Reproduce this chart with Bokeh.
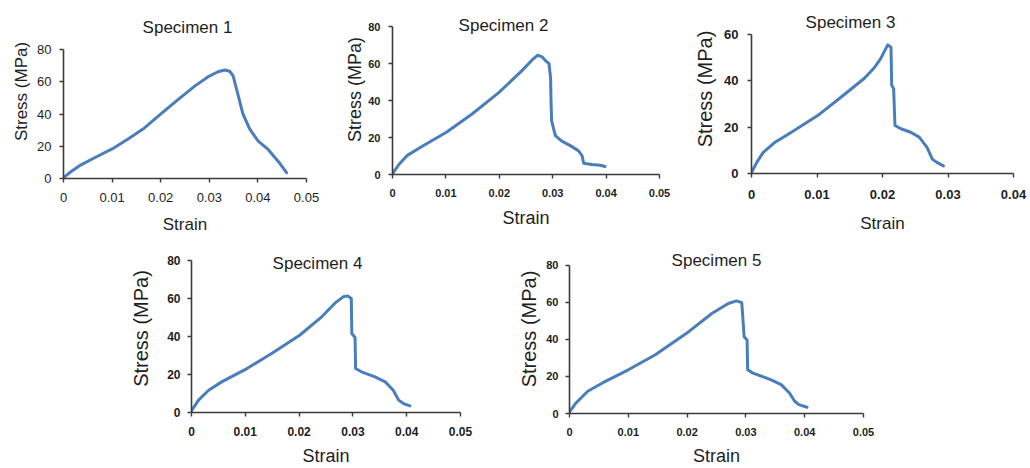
from bokeh.plotting import figure
from bokeh.layouts import column, row
from bokeh.models import Range1d, FixedTicker, Label, Spacer
from bokeh.embed import file_html
from bokeh.resources import INLINE

# ---------------- data ----------------
titles = ["Specimen 1", "Specimen 2", "Specimen 3", "Specimen 4", "Specimen 5"]

s1_strain = [0, 0.0015, 0.0036, 0.0063, 0.0101, 0.0132, 0.0166, 0.0201, 0.0235, 0.027,
             0.0297, 0.0318, 0.0332, 0.0342, 0.0349, 0.0359, 0.0369, 0.0383, 0.04,
             0.0421, 0.0442, 0.0459]
s1_stress = [0.5, 4.2, 8.5, 12.7, 18.5, 24.4, 31.2, 40.3, 48.8, 57.3,
             63, 66.2, 67.3, 66.5, 63.7, 52, 40.3, 30.8, 23.4,
             18, 10.6, 3.6]

s2_strain = [0, 0.0012, 0.0027, 0.0055, 0.0101, 0.0149, 0.0199, 0.0242, 0.0261, 0.0272,
             0.028, 0.0287, 0.0293, 0.0296, 0.0297, 0.0298, 0.0305, 0.0317, 0.0333,
             0.0348, 0.0355, 0.0358, 0.0373, 0.0389, 0.0398]
s2_stress = [0.4, 5.4, 10.2, 15.1, 22.8, 32.7, 44.3, 56, 61.8, 64.5,
             63.6, 61.4, 60, 52.4, 38, 29, 21, 18, 15.6,
             12.9, 10.2, 6.1, 5.4, 5, 4.3]

s3_strain = [0, 0.0008, 0.0018, 0.0036, 0.0061, 0.0101, 0.0137, 0.0172, 0.0187, 0.0197,
             0.0208, 0.0213, 0.0214, 0.0217, 0.0219, 0.0228, 0.0243, 0.0256, 0.0268,
             0.0276, 0.0283, 0.0293]
s3_stress = [0.4, 4.8, 9.1, 13.5, 17.8, 25, 33, 41, 45.5, 49.5,
             55.5, 54.5, 38.1, 36.7, 20.7, 19.3, 17.8, 15.7, 11.3,
             6.2, 4.8, 3.3]

s4_strain = [0, 0.0013, 0.0032, 0.0056, 0.0103, 0.0149, 0.0201, 0.0242, 0.0267, 0.0282,
             0.029, 0.0297, 0.0298, 0.0304, 0.0305, 0.0316, 0.0341, 0.036, 0.0375,
             0.0385, 0.0394, 0.0406]
s4_stress = [0.9, 6.5, 11.7, 16.1, 23.1, 31, 40.6, 50.3, 57.6, 60.8,
             61.3, 59.9, 41.5, 39.4, 23.1, 21.4, 18.7, 16.1, 11.7,
             6.5, 4.7, 3.5]

s5_strain = [0, 0.0011, 0.0031, 0.0056, 0.01, 0.0146, 0.0199, 0.0242, 0.027, 0.0284,
             0.0293, 0.0297, 0.0302, 0.0303, 0.0312, 0.0343, 0.036, 0.0374, 0.0383,
             0.039, 0.0404]
s5_stress = [0.9, 5.7, 12, 16.5, 23.6, 31.7, 43.3, 54, 59.4, 60.8,
             59.9, 41.5, 39.7, 23.6, 21.8, 18.2, 15.6, 11.1, 6.6,
             4.8, 3.4]

x_ticks_05 = [0, 0.01, 0.02, 0.03, 0.04, 0.05]
x_labels_05 = ["0", "0.01", "0.02", "0.03", "0.04", "0.05"]
x_ticks_04 = [0, 0.01, 0.02, 0.03, 0.04]
x_labels_04 = ["0", "0.01", "0.02", "0.03", "0.04"]
y_ticks_80 = [0, 20, 40, 60, 80]
y_labels_80 = ["0", "20", "40", "60", "80"]
y_ticks_60 = [0, 20, 40, 60]
y_labels_60 = ["0", "20", "40", "60"]

series = [(s1_strain, s1_stress), (s2_strain, s2_stress), (s3_strain, s3_stress),
          (s4_strain, s4_stress), (s5_strain, s5_stress)]
xticks = [(x_ticks_05, x_labels_05)] * 2 + [(x_ticks_04, x_labels_04)] + [(x_ticks_05, x_labels_05)] * 2
yticks = [(y_ticks_80, y_labels_80)] * 2 + [(y_ticks_60, y_labels_60)] + [(y_ticks_80, y_labels_80)] * 2

# ---------------- styles / layout ----------------
# ax_top: pixel (from canvas top) where the top tick of the y axis sits;
# the frame extends above it so that the title can sit inside the frame.
cfg = [
    dict(w=340, h=240, bl=63, br=34, bt=4, bb=62, ax_top=49, tf=13, tb="normal", yl=17, xl=17,
         tx=124, ty=151, ystd=3, xstd=10, lsx=10, lsy=8),
    dict(w=350, h=240, bl=52, br=31, bt=4, bb=66, ax_top=26, tf=11, tb="bold", yl=18, xl=18,
         tx=111, ty=149, ystd=0, xstd=8, lsx=10, lsy=8),
    dict(w=340, h=240, bl=61, br=17, bt=4, bb=67, ax_top=34, tf=13, tb="bold", yl=20, xl=17,
         tx=99, ty=151, ystd=5, xstd=12, lsx=12, lsy=9),
    dict(w=390, h=228, bl=66, br=55, bt=4, bb=54, ax_top=20, tf=12, tb="bold", yl=20, xl=18,
         tx=126, ty=149, ystd=12, xstd=7, lsx=10, lsy=7),
    dict(w=365, h=228, bl=53, br=17, bt=4, bb=54, ax_top=25, tf=11, tb="bold", yl=20, xl=18,
         tx=147, ty=153, ystd=3, xstd=7, lsx=10, lsy=7),
]

FONT = "Liberation Sans"
AXIS_COLOR = "#3a3a3a"
TEXT_COLOR = "#1e1e1e"
LINE_COLOR = "#4a7ebb"

figs = []
for i in range(5):
    c = cfg[i]
    xs, ys = series[i]
    xt, xlab = xticks[i]
    yt, ylab = yticks[i]
    frame_bottom = c["h"] - c["bb"]
    frame_top = c["bt"]
    y_top = yt[-1] * (frame_bottom - frame_top) / (frame_bottom - c["ax_top"])
    p = figure(width=c["w"], height=c["h"], output_backend="svg", toolbar_location=None,
               x_range=Range1d(xt[0], xt[-1]), y_range=Range1d(yt[0], y_top),
               min_border_left=c["bl"], min_border_right=c["br"],
               min_border_top=c["bt"], min_border_bottom=c["bb"])
    p.outline_line_color = None
    p.grid.visible = False
    p.background_fill_color = "white"
    p.border_fill_color = "white"

    p.line(xs, ys, line_color=LINE_COLOR, line_width=3, line_join="round", line_cap="round")

    p.xaxis.ticker = FixedTicker(ticks=xt)
    p.yaxis.ticker = FixedTicker(ticks=yt)
    p.yaxis.bounds = (yt[0], yt[-1])
    p.xaxis.major_label_overrides = dict(zip(xt, xlab))
    p.yaxis.major_label_overrides = dict(zip(yt, ylab))
    p.xaxis.axis_label = "Strain"
    p.yaxis.axis_label = "Stress (MPa)"
    for ax in (p.xaxis, p.yaxis):
        ax.axis_line_color = AXIS_COLOR
        ax.axis_line_width = 1.6
        ax.major_tick_line_color = AXIS_COLOR
        ax.major_tick_line_width = 1.4
        ax.major_tick_in = 0
        ax.major_tick_out = 4
        ax.minor_tick_line_color = None
        ax.major_label_text_font = FONT
        ax.major_label_text_font_size = "%dpx" % c["tf"]
        ax.major_label_text_font_style = c["tb"]
        ax.major_label_text_color = TEXT_COLOR
        ax.axis_label_text_font = FONT
        ax.axis_label_text_font_style = "normal"
        ax.axis_label_text_color = TEXT_COLOR
    p.xaxis.major_label_standoff = c["lsx"]
    p.yaxis.major_label_standoff = c["lsy"]
    p.xaxis.axis_label_text_font_size = "%dpx" % c["xl"]
    p.yaxis.axis_label_text_font_size = "%dpx" % c["yl"]
    p.xaxis.axis_label_standoff = c["xstd"]
    p.yaxis.axis_label_standoff = c["ystd"]

    p.add_layout(Label(x=c["tx"], y=c["ty"], x_units="screen", y_units="screen",
                       text=titles[i], text_align="center", text_baseline="middle",
                       text_font=FONT, text_font_size="17px", text_color=TEXT_COLOR))
    figs.append(p)

layout = column(row(column(figs[0]), column(figs[1]), column(figs[2])),
                row(Spacer(width=125, height=228), column(figs[3]), column(figs[4])))

open("out.html", "w").write(file_html(layout, INLINE))
